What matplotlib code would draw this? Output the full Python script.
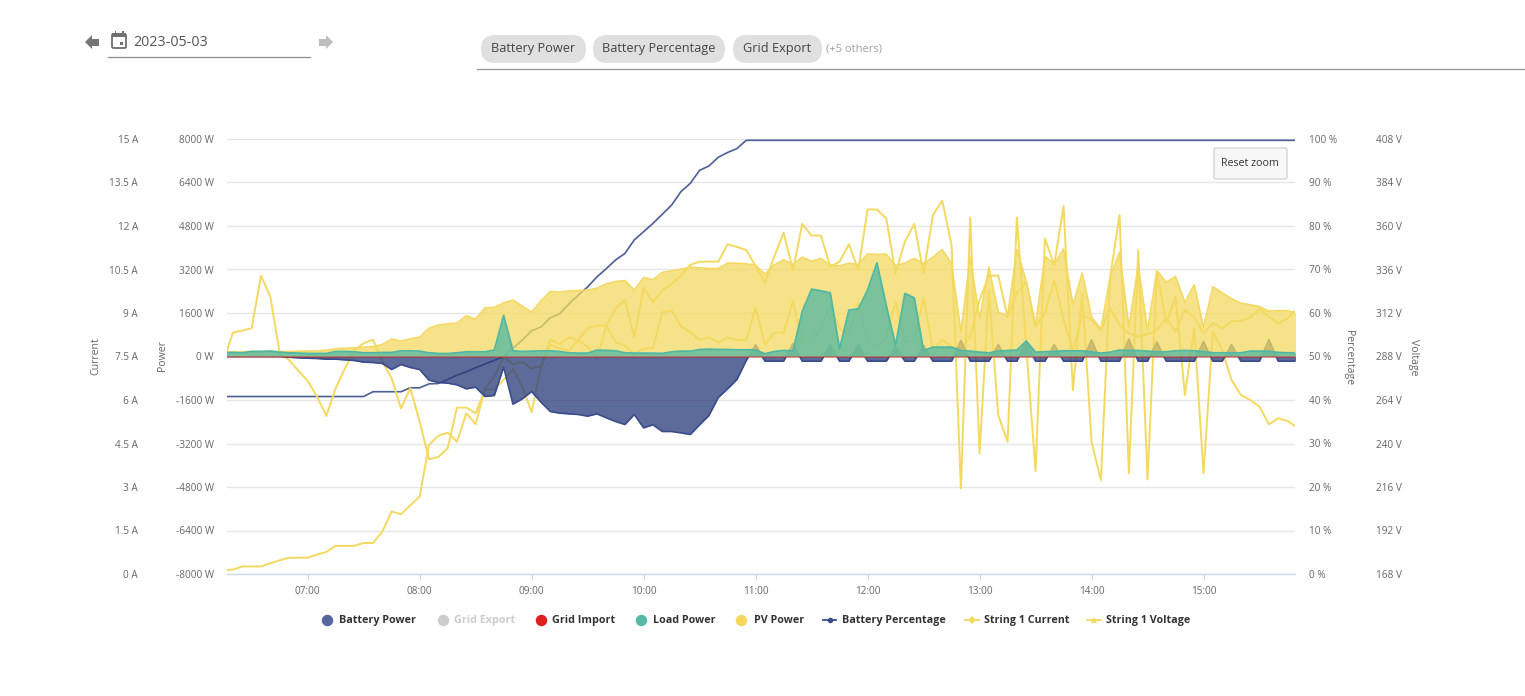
#!/usr/bin/env python3
# -*- coding: utf-8 -*-
from matplotlib import pyplot as plt
from matplotlib.patches import FancyBboxPatch, Polygon, Rectangle
import matplotlib.dates as mdates
import pandas as pd

plt.rcParams['font.family'] = ['Open Sans', 'DejaVu Sans']

#Samples every 5 minutes, 06:15 to 15:50
times = pd.date_range('2023-05-03 06:15', '2023-05-03 15:50', freq='5min')

pv_power = [170, 170, 170, 190, 190, 195, 184, 184, 196, 196,
            208, 233, 282, 306, 319, 343, 368, 441, 638, 564,
            650, 711, 1042, 1152, 1201, 1226, 1496, 1373, 1790, 1802,
            1974, 2072, 1851, 1631, 2047, 2391, 2366, 2415, 2427, 2440,
            2513, 2673, 2758, 2795, 2440, 2906, 2820, 3090, 3151, 3212,
            3286, 3261, 3237, 3237, 3433, 3433, 3408, 3359, 3028, 3372,
            3555, 3384, 3653, 3506, 3604, 3359, 3335, 3433, 3384, 3776,
            3752, 3764, 3347, 3433, 3604, 3408, 3653, 3935, 3408, 895,
            3653, 1385, 3286, 1631, 1483, 3935, 2758, 1140, 3690, 3408,
            3960, 1900, 3065, 1447, 1018, 2918, 3837, 1079, 3347, 956,
            3163, 2734, 2942, 1998, 2636, 1079, 2562, 2342, 2121, 1962,
            1900, 1839, 1667, 1692, 1680, 1606]

load_power = [147, 147, 135, 184, 184, 196, 159, 135, 123, 110,
              110, 110, 184, 184, 172, 135, 135, 147, 147, 208,
              208, 196, 135, 110, 110, 135, 172, 172, 172, 233,
              1508, 208, 184, 196, 208, 208, 184, 135, 123, 123,
              233, 225, 208, 135, 123, 123, 123, 110, 172, 196,
              196, 257, 270, 257, 257, 245, 245, 245, 98, 184,
              220, 208, 1655, 2476, 2415, 2342, 282, 1704, 1753, 2440,
              3445, 1876, 405, 2317, 2158, 220, 343, 343, 343, 220,
              196, 159, 135, 196, 220, 233, 564, 159, 172, 184,
              208, 208, 208, 172, 123, 159, 233, 220, 220, 196,
              172, 172, 208, 220, 208, 184, 135, 135, 135, 135,
              196, 196, 196, 147, 135, 135]

battery_power = [0, 0, 0, 0, 0, 0, 0, -25, -49, -61,
                 -74, -98, -98, -123, -147, -208, -221, -257, -478, -294,
                 -405, -478, -870, -956, -981, -1042, -1189, -1128, -1471, -1434,
                 -392, -1753, -1557, -1287, -1680, -2023, -2084, -2109, -2133, -2195,
                 -2109, -2256, -2391, -2501, -2133, -2624, -2513, -2759, -2759, -2808,
                 -2869, -2513, -2170, -1508, -1189, -846, -147, 430, -172, -172,
                 -172, 465, -172, -172, -172, 430, -172, -172, 430, -172,
                 -172, -172, 343, -172, -172, 400, -172, -172, -172, 590,
                 -172, -172, -172, 440, -172, -172, 560, -172, -172, 440,
                 -172, -172, -172, 610, -172, -172, -172, 640, -172, -172,
                 540, -172, -172, -172, -172, 550, -172, -172, 440, -172,
                 -172, -172, 625, -172, -172, -172]

grid_import = [0, 0, 0, 0, 0, 0, 0, 0, 0, 0, 0, 0, 0, 0, 0, 0, 0, 0, 0, 0,
               0, 0, 0, 0, 0, 0, 0, 0, 0, 0, 0, 0, 0, 0, 0, 0, 0, 0, 0, 0,
               0, 0, 0, 0, 0, 0, 0, 0, 0, 0, 0, 0, 0, 0, 0, 0, 0, 0, 0, 0,
               0, 0, 0, 0, 0, 0, 0, 0, 0, 0, 0, 0, 0, 0, 0, 0, 0, 0, 0, 0,
               0, 0, 0, 0, 0, 0, 0, 0, 0, 0, 0, 0, 0, 0, 0, 0, 0, 0, 0, 0,
               0, 0, 0, 0, 0, 0, 0, 0, 0, 0, 0, 0, 0, 0, 0, 0]

battery_pct = [40.8, 40.8, 40.8, 40.8, 40.8, 40.8, 40.8, 40.8, 40.8, 40.8,
               40.8, 40.8, 40.8, 40.8, 40.8, 40.8, 41.9, 41.9, 41.9, 41.9,
               42.8, 42.8, 43.7, 43.8, 44.7, 45.7, 46.5, 47.4, 48.3, 49.1,
               50.0, 51.9, 53.8, 55.9, 56.8, 58.9, 59.8, 62.1, 64.1, 66.0,
               68.3, 70.2, 72.2, 73.7, 76.8, 78.7, 80.6, 82.7, 84.8, 87.9,
               89.8, 92.8, 93.8, 95.8, 96.9, 97.8, 99.7, 99.7, 99.7, 99.7,
               99.7, 99.7, 99.7, 99.7, 99.7, 99.7, 99.7, 99.7, 99.7, 99.7,
               99.7, 99.7, 99.7, 99.7, 99.7, 99.7, 99.7, 99.7, 99.7, 99.7,
               99.7, 99.7, 99.7, 99.7, 99.7, 99.7, 99.7, 99.7, 99.7, 99.7,
               99.7, 99.7, 99.7, 99.7, 99.7, 99.7, 99.7, 99.7, 99.7, 99.7,
               99.7, 99.7, 99.7, 99.7, 99.7, 99.7, 99.7, 99.7, 99.7, 99.7,
               99.7, 99.7, 99.7, 99.7, 99.7, 99.7]

string_current = [0.13, 0.15, 0.26, 0.26, 0.26, 0.37, 0.47, 0.56, 0.56, 0.56,
                  0.67, 0.76, 0.97, 0.97, 0.97, 1.07, 1.07, 1.46, 2.16, 2.06,
                  2.37, 2.67, 4.45, 4.77, 4.87, 4.56, 5.54, 5.17, 6.40, 6.80,
                  7.49, 7.23, 7.31, 7.09, 7.17, 8.07, 7.93, 8.16, 8.05, 7.84,
                  7.41, 8.56, 9.16, 9.45, 8.16, 9.88, 9.37, 9.79, 10.0, 10.29,
                  10.66, 10.77, 10.77, 10.77, 11.37, 11.28, 11.17, 10.62, 10.06, 10.94,
                  11.77, 10.48, 12.07, 11.67, 11.67, 10.6, 10.77, 11.37, 10.48, 12.57,
                  12.57, 12.26, 10.37, 11.46, 12.07, 10.37, 12.38, 12.87, 11.34, 2.95,
                  12.29, 4.16, 9.79, 5.48, 4.56, 12.29, 7.84, 3.55, 11.57, 10.65,
                  12.69, 6.34, 9.68, 4.56, 3.24, 10.25, 12.38, 3.47, 11.17, 3.26,
                  10.43, 8.64, 9.56, 6.17, 8.47, 3.47, 8.36, 7.72, 6.69, 6.17,
                  6.0, 5.77, 5.16, 5.37, 5.28, 5.06]

string_voltage = [286, 301.2, 302.3, 303.6, 332.6, 321.0, 290.1, 286.1, 280.2, 274.5,
                  265.9, 255.2, 270.5, 281.5, 291.2, 295.3, 297.3, 285.2, 276.0, 259.4,
                  270.5, 252.1, 231.3, 232.6, 237.4, 259.8, 259.8, 256.7, 269.5, 269.9,
                  275.1, 281.0, 271.4, 257.2, 282.4, 294.4, 292.5, 291.1, 297.1, 303.6,
                  305.0, 305.0, 295.9, 294.0, 289.4, 292.5, 292.5, 312.4, 313.5, 304.7,
                  301.4, 297.1, 298.6, 295.7, 298.6, 297.1, 297.1, 315.0, 294.4, 301.2,
                  301.2, 318.3, 295.7, 297.1, 303.6, 315.5, 303.6, 299.3, 317.9, 297.1,
                  293.5, 299.0, 318.3, 295.7, 297.1, 320.5, 291.6, 297.3, 293.4, 291.6,
                  299.0, 319.2, 332.6, 332.6, 310.0, 322.9, 329.3, 304.5, 311.8, 330.2,
                  308.2, 291.6, 310.9, 308.2, 302.6, 314.6, 305.4, 300.8, 299.0, 300.4,
                  302.6, 309.1, 301.7, 313.7, 309.6, 300.8, 306.3, 303.6, 307.6, 307.6,
                  309.6, 314.2, 310.0, 306.3, 309.1, 314.0]

current_ticks = [0, 1.5, 3, 4.5, 6, 7.5, 9, 10.5, 12, 13.5, 15]
power_ticks = [-8000, -6400, -4800, -3200, -1600, 0, 1600, 3200, 4800, 6400, 8000]
pct_ticks = [0, 10, 20, 30, 40, 50, 60, 70, 80, 90, 100]
voltage_ticks = [168, 192, 216, 240, 264, 288, 312, 336, 360, 384, 408]
hour_ticks = ['07:00', '08:00', '09:00', '10:00', '11:00', '12:00', '13:00', '14:00', '15:00']

chips = ['Battery Power', 'Battery Percentage', 'Grid Export']

BLUE = '#273979'
BLUE_LINE = '#3a4c8c'
TEAL = '#4fb8a4'
YELLOW = '#f4d960'
RED = '#e02020'
LABEL = '#666666'

W, H = 1525, 696
fig = plt.figure(figsize=(W/100, H/100), dpi=100, facecolor='white')

#Plot box in pixels: x 227-1295, y 139-574
box = [227/W, 1 - 574/H, (1295 - 227)/W, (574 - 139)/H]
ax = fig.add_axes(box, zorder=3)
ax.patch.set_visible(False)
ax_pct = ax.twinx()
ax_cur = ax.twinx()
ax_volt = ax.twinx()
ax_pct.set_zorder(1)
ax_cur.set_zorder(2)
ax_volt.set_zorder(2)

#Lines sit under the areas
ax_pct.plot(times, battery_pct, color=BLUE_LINE, lw=1.2, alpha=0.9)
ax_cur.plot(times, string_current, color=YELLOW, lw=1.4)
ax_volt.plot(times, string_voltage, color=YELLOW, lw=1.4)

#Areas, battery goes under PV so its peaks show through the yellow
ax.fill_between(times, 0, battery_power, color=BLUE, alpha=0.75, lw=0, zorder=1)
ax.plot(times, battery_power, color=BLUE_LINE, lw=1.2, zorder=1.1)
ax.fill_between(times, 0, pv_power, color=YELLOW, alpha=0.75, lw=0, zorder=2)
ax.plot(times, pv_power, color=YELLOW, lw=1.2, zorder=2.1)
ax.fill_between(times, 0, load_power, color=TEAL, alpha=0.75, lw=0, zorder=3)
ax.plot(times, load_power, color=TEAL, lw=1.3, zorder=3.1)
ax.plot(times, grid_import, color=RED, lw=1.1, alpha=0.55, zorder=3.2)

#Axes limits
ax.set_xlim(pd.Timestamp('2023-05-03 06:16:47'), pd.Timestamp('2023-05-03 15:49:00'))
ax.set_ylim(-8000, 8000)
ax_pct.set_ylim(0, 100)
ax_cur.set_ylim(0, 15)
ax_volt.set_ylim(168, 408)

#Ticks
ax.set_yticks(power_ticks, [f'{v} W' for v in power_ticks])
ax_pct.set_yticks(pct_ticks, [f'{v} %' for v in pct_ticks])
ax_cur.set_yticks(current_ticks, [f'{v:g} A' for v in current_ticks])
ax_volt.set_yticks(voltage_ticks, [f'{v} V' for v in voltage_ticks])
ax_cur.yaxis.tick_left()
ax_cur.yaxis.set_label_position('left')

ax.tick_params(axis='y', length=0, pad=9.4, labelsize=7.2, labelcolor=LABEL)
ax_cur.tick_params(axis='y', length=0, pad=64, labelsize=7.2, labelcolor=LABEL)
ax_pct.tick_params(axis='y', length=0, pad=10, labelsize=7.2, labelcolor=LABEL)
ax_volt.tick_params(axis='y', length=0, pad=58, labelsize=7.2, labelcolor=LABEL)

hour_pos = [pd.Timestamp('2023-05-03 ' + h) for h in hour_ticks]
ax.set_xticks(hour_pos, hour_ticks)
ax.xaxis.set_major_formatter(mdates.DateFormatter('%H:%M'))
ax.tick_params(axis='x', length=4, width=0.8, color='#ccd6eb', pad=5, labelsize=7.2, labelcolor=LABEL)

#Grid only on the bottom axes
ax_pct.grid(axis='y', color='#e6e6e6', lw=1.0)
ax_pct.set_axisbelow(True)

for a in [ax, ax_pct, ax_cur, ax_volt]:
    for s in a.spines.values():
        s.set_visible(False)
ax.spines['bottom'].set_visible(True)
ax.spines['bottom'].set_color('#ccd6eb')
ax.spines['bottom'].set_linewidth(0.9)

#Overlay in pixel coordinates for page furniture
ui = fig.add_axes([0, 0, 1, 1], zorder=5)
ui.set_xlim(0, W)
ui.set_ylim(H, 0)
ui.axis('off')

#Axis titles
ui.text(96, 356, 'Current', rotation=90, ha='center', va='center', fontsize=7.6, color=LABEL)
ui.text(162, 356, 'Power', rotation=90, ha='center', va='center', fontsize=7.6, color=LABEL)
ui.text(1349, 358, 'Percentage', rotation=270, ha='center', va='center', fontsize=7.6, color=LABEL)
ui.text(1414, 357, 'Voltage', rotation=270, ha='center', va='center', fontsize=7.6, color=LABEL)

#Date picker
ui.add_patch(Polygon([(85, 42), (92, 35), (92, 39), (99, 39), (99, 46), (92, 46), (92, 49)],
                     color='#757575', lw=0))
ui.add_patch(Polygon([(333, 42), (326, 35), (326, 39), (319, 39), (319, 46), (326, 46), (326, 49)],
                     color='#bdbdbd', lw=0))
ui.add_patch(FancyBboxPatch((112, 34), 14, 14, boxstyle='round,pad=0,rounding_size=1.5',
                            fc='none', ec='#707070', lw=1.3))
ui.add_patch(Rectangle((112, 33), 14, 4, color='#707070', lw=0))
ui.add_patch(Rectangle((114.5, 31), 1.6, 3, color='#707070', lw=0))
ui.add_patch(Rectangle((122, 31), 1.6, 3, color='#707070', lw=0))
ui.add_patch(Rectangle((120, 42), 3, 3, color='#707070', lw=0))
ui.text(133, 42.7, '2023-05-03', ha='left', va='center', fontsize=10.3, color='#555555')
ui.plot([108, 310], [56.5, 56.5], color='#8c8c8c', lw=0.9)

#Chips
chip_x = [(481, 586), (593, 725), (733, 822)]
for name, (x0, x1) in zip(chips, chip_x):
    ui.add_patch(FancyBboxPatch((x0 + 14, 35 + 14), x1 - x0 - 28, 0.01,
                                boxstyle='round,pad=14,rounding_size=14',
                                fc='#e0e0e0', ec='none'))
    ui.text((x0 + x1)/2, 48.7, name, ha='center', va='center', fontsize=9.2, color='#444444')
ui.text(826, 49, '(+5 others)', ha='left', va='center', fontsize=8, color='#a0a0a0')
ui.plot([477, 1525], [69, 69], color='#949494', lw=0.9)

#Reset zoom button
ui.add_patch(FancyBboxPatch((1214, 148), 73, 31, boxstyle='round,pad=0,rounding_size=2',
                            fc='#f7f7f7', ec='#cccccc', lw=0.8))
ui.text(1250, 163.5, 'Reset zoom', ha='center', va='center', fontsize=7.7, color='#333333')

#Legend
legend_y = 620
dots = [(327, BLUE_LINE, 'Battery Power', 339, '#333333'),
        (443, '#cccccc', 'Grid Export', 454, '#cccccc'),
        (541, RED, 'Grid Import', 552, '#333333'),
        (641, '#55b9a5', 'Load Power', 653, '#333333'),
        (741, YELLOW, 'PV Power', 754, '#333333')]
for x, col, name, tx, tcol in dots:
    ui.scatter([x], [legend_y], s=68, color=col, lw=0, alpha=0.85 if col == BLUE_LINE else 1)
    ui.text(tx, legend_y + 0.6, name, ha='left', va='center', fontsize=7.75, fontweight='bold', color=tcol)

marks = [(823, 836, BLUE_LINE, 'o', 'Battery Percentage', 842),
         (965, 979, YELLOW, 'D', 'String 1 Current', 984),
         (1087, 1101, YELLOW, '^', 'String 1 Voltage', 1106)]
for x0, x1, col, mk, name, tx in marks:
    ui.plot([x0, x1], [legend_y, legend_y], color=col, lw=1.3)
    ui.plot([(x0 + x1)/2], [legend_y], marker=mk, ms=4, color=col, mew=0)
    ui.text(tx, legend_y + 0.6, name, ha='left', va='center', fontsize=7.75, fontweight='bold', color='#333333')

plt.savefig('out.png', dpi=100)
